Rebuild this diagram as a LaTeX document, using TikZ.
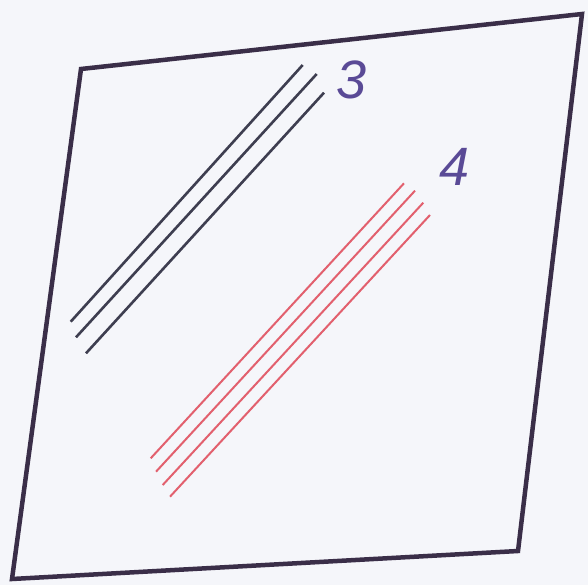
\documentclass[tikz,border=0pt]{standalone}
\usepackage{fontspec}
\setmainfont{Liberation Sans}
\definecolor{bg}{HTML}{F5F6FA}
\definecolor{frame}{HTML}{3A2E48}
\definecolor{darkln}{HTML}{3E3E50}
\definecolor{redln}{HTML}{E2606E}
\definecolor{lbl}{HTML}{5A4A96}
\begin{document}
\begin{tikzpicture}[x=1pt,y=-1pt,
  framestyle/.style={draw=frame,line width=4.5pt,line join=miter},
  darkstyle/.style={draw=darkln,line width=2.6pt},
  redstyle/.style={draw=redln,line width=2pt},
  lblstyle/.style={text=lbl,font=\fontsize{54}{54}\selectfont\itshape,inner sep=0pt}]
\fill[bg] (0,0) rectangle (588,585);
\useasboundingbox (0,0) rectangle (588,585);
\coordinate (tl) at (81,69);
\coordinate (tr) at (582,14);
\coordinate (br) at (518,551);
\coordinate (bl) at (12,579);
\draw[framestyle] (tl) -- (tr) -- (br) -- (bl) -- cycle;
% dark lines
\coordinate (a1) at (70.7,321.7); \coordinate (b1) at (302.7,65);
\coordinate (a2) at (76,337.3);   \coordinate (b2) at (316.7,74);
\coordinate (a3) at (86,353.3);   \coordinate (b3) at (324,92.7);
\draw[darkstyle] (a1) -- (b1);
\draw[darkstyle] (a2) -- (b2);
\draw[darkstyle] (a3) -- (b3);
% red lines
\coordinate (c1) at (150.7,458.3); \coordinate (d1) at (404,183.3);
\coordinate (c2) at (156,471.7);   \coordinate (d2) at (415,190.7);
\coordinate (c3) at (162.7,485);   \coordinate (d3) at (423.3,202.7);
\coordinate (c4) at (170,496.7);   \coordinate (d4) at (430,215);
\draw[redstyle] (c1) -- (d1);
\draw[redstyle] (c2) -- (d2);
\draw[redstyle] (c3) -- (d3);
\draw[redstyle] (c4) -- (d4);
\node[lblstyle] (n3) at (352,80) {3};
\node[lblstyle] (n4) at (455,167) {4};
\end{tikzpicture}
\end{document}
